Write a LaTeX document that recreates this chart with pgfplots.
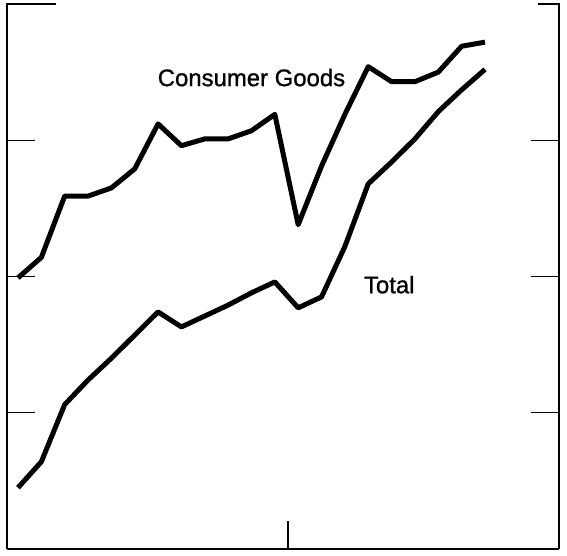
\documentclass[border=0pt]{standalone}
\usepackage{pgfplots}
\pgfplotsset{compat=1.18}
\usepackage{fontspec}
\setmainfont{Liberation Sans}
\newfontfamily\labelfont[FakeBold=1.0]{Liberation Sans}

% values (index = month, y in grid units 0..4)
\begin{document}
\begin{tikzpicture}
\begin{axis}[
  scale only axis,
  width=552bp, height=545bp,
  xmin=-0.47, xmax=23.17,
  ymin=0, ymax=4,
  axis x line*=bottom,
  axis y line*=box,
  axis line style={line width=2bp},
  tick align=inside,
  xtick={11.56}, xticklabels={},
  ytick={1,2,3}, yticklabels={},
  major tick length=28bp,
  tick style={line width=1.2bp, black},
  clip=false,
]
\addplot[line width=5bp, black, line join=round] coordinates {
  (0,1.99) (1,2.14) (2,2.59) (3,2.59) (4,2.65) (5,2.79) (6,3.12)
  (7,2.96) (8,3.01) (9,3.01) (10,3.07) (11,3.19) (12,2.38) (13,2.81)
  (14,3.19) (15,3.54) (16,3.43) (17,3.43) (18,3.50) (19,3.69) (20,3.72)
};
\addplot[line width=5bp, black, line join=round] coordinates {
  (0,0.45) (1,0.64) (2,1.06) (3,1.24) (4,1.40) (5,1.57) (6,1.74)
  (7,1.63) (8,1.71) (9,1.79) (10,1.88) (11,1.96) (12,1.77) (13,1.85)
  (14,2.22) (15,2.68) (16,2.84) (17,3.01) (18,3.21) (19,3.37) (20,3.52)
};
% short top corner pieces of the frame
\draw[line width=2.2bp, line cap=rect] (rel axis cs:0,1) -- ++(37bp,0);
\draw[line width=2.2bp, line cap=rect] (rel axis cs:1,1) -- ++(-31bp,0);
\node[font=\labelfont\fontsize{24}{28}\selectfont] at (axis cs:10.0,3.46) {Consumer Goods};
\node[font=\labelfont\fontsize{24}{28}\selectfont] at (axis cs:15.9,1.94) {Total};
\end{axis}
\path (current axis.south west) ++(-7bp,-3bp) coordinate (a);
\path (current axis.north east) ++(8bp,4bp) coordinate (b);
\path (a) rectangle (b);
\end{tikzpicture}
\end{document}
